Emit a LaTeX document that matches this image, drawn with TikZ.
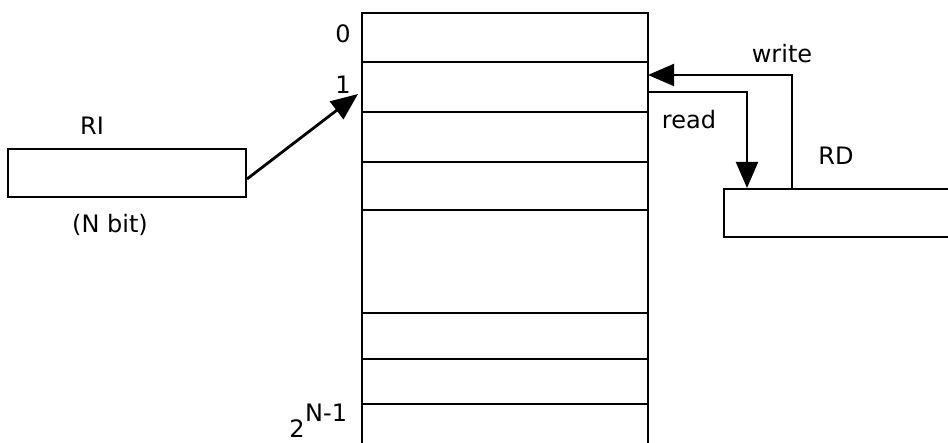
\documentclass[tikz,border=0pt]{standalone}
\usepackage{fontspec}
\setmainfont{DejaVu Sans}
\usetikzlibrary{arrows.meta}
\begin{document}
\begin{tikzpicture}[x=1pt,y=-1pt,
  wire/.style={line width=2pt},
  regbox/.style={draw,line width=2pt,minimum height=48pt,inner sep=0pt},
  lbl/.style={font=\fontsize{24}{28}\selectfont,anchor=base,inner sep=0pt},
  tip/.style={-{Triangle[length=26pt,width=22pt]}}]
\useasboundingbox (0,0) rectangle (948,443);
% memory column (open at the bottom)
\coordinate (mtl) at (362,13);
\coordinate (mtr) at (648,13);
\draw[wire] (362,460) -- (mtl) -- (mtr) -- (648,460);
\foreach \y in {62,112,162,210,313,359,404}
  \draw[wire] (362,\y) -- (648,\y);
\coordinate (cell1) at (358,94);
\coordinate (wIn) at (648,75);
\coordinate (rOut) at (648,92);
% registers
\node[regbox,minimum width=238pt] (RI) at (127,173) {};
\node[regbox,minimum width=260pt,anchor=north west] (RD) at (723,188) {};
% labels
\node[lbl] (l0) at (343,43) {0};
\node[lbl] (l1) at (343,94) {1};
\node[lbl] (l2a) at (297,438) {2};
\node[lbl,anchor=base west] (l2b) at (305,421) {N-1};
\node[lbl] (lRI) at (92,135) {RI};
\node[lbl] (lNb) at (110,233) {(N bit)};
\node[lbl] (lRD) at (836,165) {RD};
\node[lbl] (lw) at (782,63) {write};
\node[lbl] (lr) at (689,129) {read};
% connectors
\draw[line width=2.8pt,-{Triangle[length=27pt,width=22pt]}] ([yshift=-6pt]RI.east) -- (cell1);
\coordinate (wSrc) at (792,188);
\coordinate (rDst) at (747,188);
\draw[wire,tip] (wSrc) |- (wIn);
\draw[wire,tip] (rOut) -| (rDst);
\end{tikzpicture}
\end{document}
